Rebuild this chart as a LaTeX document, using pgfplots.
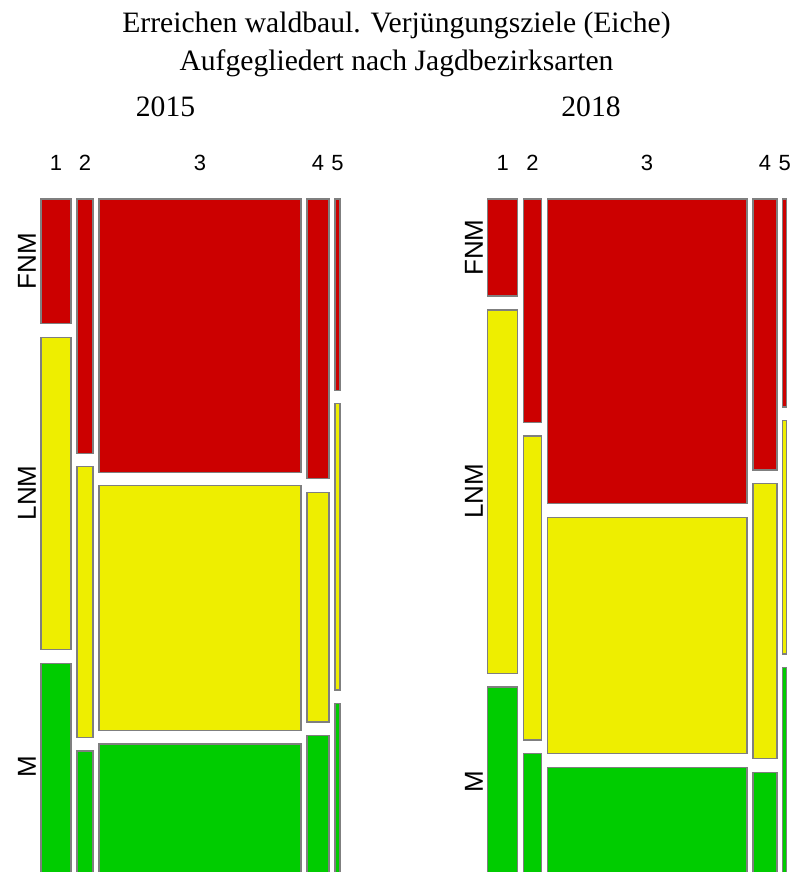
\documentclass[border=0pt]{standalone}
\usepackage{pgfplots}
\pgfplotsset{compat=1.18}
\usepackage{fontspec}
\setmainfont{Liberation Serif}
\newfontfamily\labfont{Liberation Sans}
\definecolor{cred}{HTML}{CC0000}
\definecolor{cyel}{HTML}{EEEE00}
\definecolor{cgrn}{HTML}{00CC00}
\definecolor{cbord}{HTML}{7F7F7F}
\begin{document}
\begin{tikzpicture}
\begin{axis}[
  at={(0,0)}, anchor=south west,
  width=397pt, height=436pt, scale only axis,
  xmin=0, xmax=794, ymin=0, ymax=872, y dir=reverse,
  hide axis, clip=true, no markers,
  every axis plot/.append style={draw=cbord, line width=0.55pt, line join=miter},
]
% ---- 2015 ----
% column 1
\addplot[fill=cred] coordinates {(41,199) (71,199) (71,323.3) (41,323.3)} --cycle;
\addplot[fill=cyel] coordinates {(41,337.5) (71,337.5) (71,649.3) (41,649.3)} --cycle;
\addplot[fill=cgrn] coordinates {(41,663.3) (71,663.3) (71,880) (41,880)} --cycle;
% column 2
\addplot[fill=cred] coordinates {(77,199) (93,199) (93,453.3) (77,453.3)} --cycle;
\addplot[fill=cyel] coordinates {(77,466.3) (93,466.3) (93,737.3) (77,737.3)} --cycle;
\addplot[fill=cgrn] coordinates {(77,751) (93,751) (93,880) (77,880)} --cycle;
% column 3
\addplot[fill=cred] coordinates {(99,199) (301,199) (301,472.3) (99,472.3)} --cycle;
\addplot[fill=cyel] coordinates {(99,485.7) (301,485.7) (301,730.3) (99,730.3)} --cycle;
\addplot[fill=cgrn] coordinates {(99,744) (301,744) (301,880) (99,880)} --cycle;
% column 4
\addplot[fill=cred] coordinates {(307,199) (329,199) (329,478.7) (307,478.7)} --cycle;
\addplot[fill=cyel] coordinates {(307,492.3) (329,492.3) (329,722) (307,722)} --cycle;
\addplot[fill=cgrn] coordinates {(307,735.7) (329,735.7) (329,880) (307,880)} --cycle;
% column 5
\addplot[fill=cred] coordinates {(335,199) (340,199) (340,390.3) (335,390.3)} --cycle;
\addplot[fill=cyel] coordinates {(335,403.7) (340,403.7) (340,690) (335,690)} --cycle;
\addplot[fill=cgrn] coordinates {(335,703.7) (340,703.7) (340,880) (335,880)} --cycle;
% ---- 2018 ----
% column 1
\addplot[fill=cred] coordinates {(487.7,199) (517.7,199) (517.7,296) (487.7,296)} --cycle;
\addplot[fill=cyel] coordinates {(487.7,310) (517.7,310) (517.7,673.3) (487.7,673.3)} --cycle;
\addplot[fill=cgrn] coordinates {(487.7,687) (517.7,687) (517.7,880) (487.7,880)} --cycle;
% column 2
\addplot[fill=cred] coordinates {(523.3,199) (541.7,199) (541.7,422.3) (523.3,422.3)} --cycle;
\addplot[fill=cyel] coordinates {(523.3,436) (541.7,436) (541.7,740) (523.3,740)} --cycle;
\addplot[fill=cgrn] coordinates {(523.3,753.7) (541.7,753.7) (541.7,880) (523.3,880)} --cycle;
% column 3
\addplot[fill=cred] coordinates {(547.3,199) (747,199) (747,503.7) (547.3,503.7)} --cycle;
\addplot[fill=cyel] coordinates {(547.3,517.7) (747,517.7) (747,753.7) (547.3,753.7)} --cycle;
\addplot[fill=cgrn] coordinates {(547.3,767.3) (747,767.3) (747,880) (547.3,880)} --cycle;
% column 4
\addplot[fill=cred] coordinates {(753,199) (777,199) (777,470) (753,470)} --cycle;
\addplot[fill=cyel] coordinates {(753,483.7) (777,483.7) (777,758.3) (753,758.3)} --cycle;
\addplot[fill=cgrn] coordinates {(753,772.3) (777,772.3) (777,880) (753,880)} --cycle;
% column 5
\addplot[fill=cred] coordinates {(782.7,199) (786.7,199) (786.7,407) (782.7,407)} --cycle;
\addplot[fill=cyel] coordinates {(782.7,420.3) (786.7,420.3) (786.7,654) (782.7,654)} --cycle;
\addplot[fill=cgrn] coordinates {(782.7,667.7) (786.7,667.7) (786.7,880) (782.7,880)} --cycle;
% ---- texts ----
\node[anchor=base, font=\fontsize{14.8}{17}\selectfont] at (axis cs:396.5,33) {Erreichen waldbaul. Verjüngungsziele (Eiche)};
\node[anchor=base, font=\fontsize{14.8}{17}\selectfont] at (axis cs:396.5,71) {Aufgegliedert nach Jagdbezirksarten};
\node[anchor=base, font=\fontsize{14.8}{17}\selectfont] at (axis cs:165.5,117) {2015};
\node[anchor=base, font=\fontsize{14.8}{17}\selectfont] at (axis cs:591,117) {2018};
\foreach \x/\t in {56/1,85/2,200/3,318/4,337.5/5,502.7/1,532.5/2,647/3,765/4,784.7/5}{
  \edef\tmp{\noexpand\node[anchor=base, font=\noexpand\labfont\noexpand\fontsize{11}{13}\noexpand\selectfont] at (axis cs:\x,170) {\t};}\tmp
}
\node[rotate=90, font=\labfont\fontsize{13}{14}\selectfont] at (axis cs:27,261) {FNM};
\node[rotate=90, font=\labfont\fontsize{13}{14}\selectfont] at (axis cs:27,493) {LNM};
\node[rotate=90, font=\labfont\fontsize{13}{14}\selectfont] at (axis cs:27,767) {M};
\node[rotate=90, font=\labfont\fontsize{13}{14}\selectfont] at (axis cs:474,247.5) {FNM};
\node[rotate=90, font=\labfont\fontsize{13}{14}\selectfont] at (axis cs:474,491.5) {LNM};
\node[rotate=90, font=\labfont\fontsize{13}{14}\selectfont] at (axis cs:474,782) {M};
\end{axis}
\pgfresetboundingbox
\useasboundingbox (0,0) rectangle (397pt,436pt);
\end{tikzpicture}
\end{document}
